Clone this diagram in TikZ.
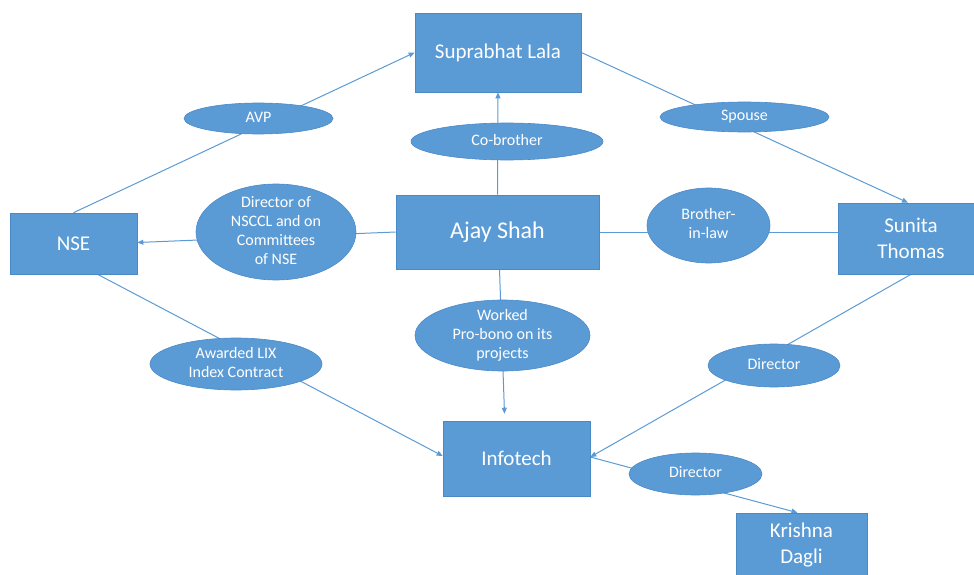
\documentclass[tikz,border=0pt]{standalone}
\usepackage{fontspec}
\setmainfont{Carlito}
\usetikzlibrary{shapes.geometric,arrows.meta,backgrounds,calc}
\definecolor{obl}{HTML}{5B9BD5}
\definecolor{obd}{HTML}{4A89C8}
\newcommand\ztext[1]{\vbox to 0pt{\vss\hbox to 0pt{\hss\lower2.5pt\hbox{\begin{tabular}{@{}c@{}}#1\end{tabular}}\hss}\vss}}
\tikzset{
  box/.style={rectangle, fill=obl, draw=obd, line width=0.6pt, text=white, inner sep=0pt, font=\fontsize{21}{26}\selectfont},
  lbl/.style={ellipse, fill=obl, draw=obd, line width=0.6pt, text=white, inner sep=0pt, font=\fontsize{16}{19}\selectfont},
  conn/.style={draw=obl, line width=1pt},
  arr/.style={conn, -{Triangle[length=6pt,width=5pt]}},
}
\begin{document}
\begin{tikzpicture}[x=1pt,y=-1pt]
\useasboundingbox (0,0) rectangle (974,575);
% boxes
\node[box, minimum width=166pt, minimum height=79pt] (sup) at (498,52.5) {Suprabhat Lala};
\node[box, minimum width=127pt, minimum height=61pt] (nse) at (73.5,243.5) {NSE};
\node[box, minimum width=203pt, minimum height=74pt, font=\fontsize{24}{29}\selectfont] (ajay) at (497.5,232) {Ajay Shah};
\node[box, minimum width=146pt, minimum height=71pt, align=center] (sun) at (911,238.5) {Sunita\\Thomas};
\node[box, minimum width=147pt, minimum height=75pt] (info) at (516.5,458.5) {Infotech};
\node[box, minimum width=131pt, minimum height=64pt, align=center] (kri) at (801.5,545) {Krishna\\Dagli};
% relation ellipses
\node[lbl, minimum width=149pt, minimum height=31pt] (avp) at (258.5,118.5) {\ztext{AVP}};
\node[lbl, minimum width=192pt, minimum height=37pt] (cob) at (507,141.5) {\ztext{Co-brother}};
\node[lbl, minimum width=169pt, minimum height=30pt] (spo) at (744.5,117) {\ztext{Spouse}};
\node[lbl, minimum width=160pt, minimum height=96pt] (dns) at (276,232) {\ztext{Director of\\NSCCL and on\\Committees\\of NSE}};
\node[lbl, minimum width=123pt, minimum height=75pt] (bil) at (708.5,225.5) {\ztext{Brother-\\in-law}};
\node[lbl, minimum width=175pt, minimum height=71pt] (wrk) at (502.5,335.5) {\ztext{Worked\\Pro-bono on its\\projects}};
\node[lbl, minimum width=172pt, minimum height=52pt] (lix) at (236,364) {\ztext{Awarded LIX\\Index Contract}};
\node[lbl, minimum width=132pt, minimum height=43pt] (dir1) at (774,365.5) {\ztext{Director}};
\node[lbl, minimum width=133pt, minimum height=42pt] (dir2) at (695.5,474) {\ztext{Director}};
% connectors
\begin{scope}[on background layer]
\draw[arr] (nse.north) -- (sup.west);
\draw[arr] (ajay.north) -- (sup.south);
\draw[arr] (sup.east) -- ($(sun.north)+(-3,0)$);
\draw[arr] (ajay.west) -- ($(nse.east)+(0,-1)$);
\draw[conn] (ajay.east) -- (ajay.east -| sun.west);
\draw[arr] ($(nse.south)+(24,0)$) -- ($(info.west)+(0,-2.5)$);
\draw[arr] ($(ajay.south)+(2,0)$) -- ($(info.north)+(-12,-7)$);
\draw[arr] (sun.south) -- ($(info.east)+(0,-1.5)$);
\draw[arr] ($(info.east)+(0,-1.5)$) -- ($(kri.north)+(-4,0)$);
\end{scope}
\end{tikzpicture}
\end{document}
